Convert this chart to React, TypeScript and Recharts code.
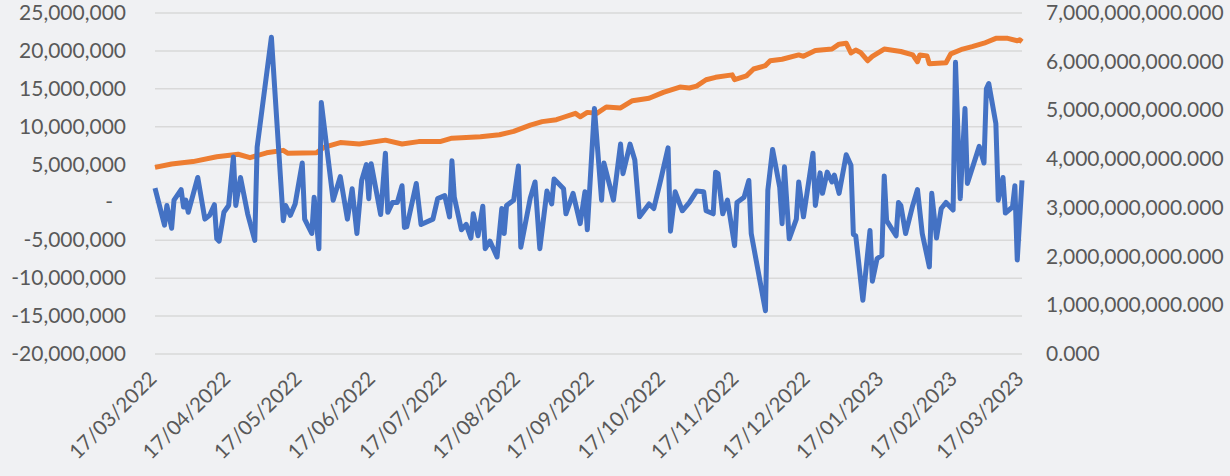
import { LineChart, Line, XAxis, YAxis, CartesianGrid } from 'recharts'

if (typeof document !== 'undefined') document.body.style.margin = '0'

// x positions are days since 17/03/2022
const tickDates = [
    '17/03/2022', '17/04/2022', '17/05/2022', '17/06/2022', '17/07/2022', '17/08/2022', '17/09/2022',
    '17/10/2022', '17/11/2022', '17/12/2022', '17/01/2023', '17/02/2023', '17/03/2023',
]

const leftTicks = [-20, -15, -10, -5, 0, 5, 10, 15, 20, 25] // millions
const rightTicks = [0, 1, 2, 3, 4, 5, 6, 7] // billions

// daily flow (millions)
const flowDays = [
    0, 4, 5, 7, 8, 11, 12, 13, 14, 18, 21, 23, 25, 26, 27, 29, 31, 33, 34, 36,
    39, 42, 43, 49, 54, 55, 57, 59, 62, 63, 66, 67, 69, 70, 75, 78, 81, 83, 85, 87,
    89, 90, 91, 95, 97, 98, 100, 102, 104, 105, 106, 110, 112, 117, 119, 122, 124, 125, 126, 129,
    131, 133, 134, 136, 138, 139, 141, 144, 146, 147, 148, 151, 153, 154, 158, 160, 162, 165, 167, 168,
    172, 173, 176, 179, 181, 182, 185, 188, 189, 193, 196, 197, 200, 202, 204, 208, 210, 213, 216, 217,
    219, 222, 225, 228, 231, 232, 235, 236, 237, 239, 241, 244, 245, 248, 250, 251, 257, 258, 260, 263,
    264, 265, 267, 270, 271, 273, 277, 278, 280, 281, 283, 285, 286, 288, 291, 293, 294, 295, 298, 301,
    302, 304, 306, 307, 308, 312, 313, 314, 316, 319, 321, 323, 326, 327, 329, 331, 333, 336, 337, 339,
    341, 342, 347, 349, 350, 351, 354, 355, 357, 358, 361, 362, 363, 365,
]
const flowValues = [
    1.9, -3.0, -0.4, -3.4, 0.3, 1.7, -0.6, 0.3, -1.3, 3.3, -2.2, -1.7, -0.3, -4.8, -5.1, -1.3, -0.4, 6.0, -0.4, 3.3,
    -1.5, -5.0, 7.3, 21.8, -2.4, -0.4, -1.7, -0.2, 5.2, -2.2, -4.1, 0.7, -6.1, 13.2, 0.3, 3.4, -2.2, 1.8, -4.1, 2.9,
    5.0, 0.5, 5.1, -1.6, 6.5, -1.3, 0.0, 0.0, 2.2, -3.3, -3.2, 2.5, -2.9, -2.2, 0.5, 0.9, -1.9, 5.5, 0.7, -3.6,
    -2.9, -4.7, -1.5, -4.4, -0.5, -6.1, -5.1, -7.2, -0.8, -4.1, -0.4, 0.3, 4.8, -5.9, 0.6, 2.7, -6.1, 1.5, -0.2, 3.1,
    1.8, -1.5, 1.2, -2.8, 1.4, -3.6, 12.4, 0.3, 5.2, 0.3, 7.7, 3.8, 7.7, 5.6, -1.9, -0.2, -0.8, 3.1, 7.2, -3.8,
    1.4, -1.1, 0.0, 1.5, 1.4, -1.1, -1.5, 4.0, 3.8, -1.5, 0.3, -5.7, 0.0, 0.7, 2.9, -4.1, -14.3, 1.6, 7.0, 2.0,
    -2.8, 4.7, -4.8, -2.2, 2.7, -1.9, 6.5, -0.4, 3.9, 1.2, 4.0, 2.7, 3.6, 1.2, 6.3, 4.9, -4.2, -4.4, -12.9, -3.7,
    -10.4, -7.4, -7.0, 3.5, -2.4, -4.4, 0.0, -0.4, -4.1, -0.4, 1.7, -4.1, -8.5, 1.2, -4.7, -0.8, 0.0, -1.0, 18.5, 0.5,
    12.4, 2.5, 7.4, 5.2, 15.0, 15.7, 10.4, 0.3, 3.3, -1.4, -0.6, 2.2, -7.6, 2.9,
]

// total (billions)
const totalDays = [
    0, 7, 16, 26, 35, 40, 47, 54, 56, 68, 71, 78, 86, 97, 104, 111, 120, 125, 137, 145,
    151, 158, 163, 169, 172, 177, 179, 182, 186, 190, 196, 201, 208, 214, 221, 225, 228, 232, 236, 243,
    244, 249, 252, 257, 259, 264, 271, 273, 278, 285, 288, 291, 293, 295, 297, 300, 302, 307, 314, 319,
    321, 322, 325, 326, 333, 335, 340, 344, 349, 354, 359, 363, 364, 365,
]
const totalValues = [
    3.83, 3.90, 3.95, 4.05, 4.10, 4.03, 4.13, 4.18, 4.12, 4.13, 4.24, 4.34, 4.31, 4.39, 4.31, 4.36, 4.36, 4.43, 4.46, 4.50,
    4.57, 4.70, 4.77, 4.81, 4.86, 4.94, 4.87, 4.96, 4.94, 5.07, 5.05, 5.20, 5.25, 5.37, 5.48, 5.46, 5.50, 5.63, 5.68, 5.73,
    5.63, 5.71, 5.85, 5.92, 6.02, 6.05, 6.14, 6.11, 6.23, 6.26, 6.36, 6.38, 6.18, 6.24, 6.19, 6.02, 6.11, 6.26, 6.21, 6.14,
    6.00, 6.14, 6.12, 5.96, 5.98, 6.16, 6.26, 6.31, 6.38, 6.48, 6.48, 6.43, 6.45, 6.41,
]

const DAY = 86400000
const parseDate = (s: string) => {
    const [d, m, y] = s.split('/').map(Number)
    return Date.UTC(y, m - 1, d)
}
const base = parseDate(tickDates[0])
const xTicks = tickDates.map((s) => Math.round((parseDate(s) - base) / DAY))
const fmtDate = (v: number) => {
    const dt = new Date(base + v * DAY)
    const dd = String(dt.getUTCDate()).padStart(2, '0')
    const mm = String(dt.getUTCMonth() + 1).padStart(2, '0')
    return `${dd}/${mm}/${dt.getUTCFullYear()}`
}

const flowData = flowDays.map((d, i) => ({ d, v: flowValues[i] }))
const totalData = totalDays.map((d, i) => ({ d, v: totalValues[i] }))

const FONT = 'Lato, "Open Sans", sans-serif'
const GREY = '#595959'

function LeftTick({ x, y, payload }: any) {
    const v = payload.value
    const label = v === 0 ? '-' : (v * 1e6).toLocaleString('en-US')
    return (
        <text x={v === 0 ? x - 13 : x} y={y} dy={7} textAnchor="end" fill={GREY} fontSize={21} fontFamily={FONT}>
            {label}
        </text>
    )
}

function RightTick({ x, y, payload }: any) {
    const label = (payload.value * 1e9).toLocaleString('en-US', { minimumFractionDigits: 3, maximumFractionDigits: 3 })
    return (
        <text x={x} y={y} dy={7} textAnchor="start" fill={GREY} fontSize={21} fontFamily={FONT}>
            {label}
        </text>
    )
}

function DateTick({ x, y, payload }: any) {
    const tx = x + 3
    const ty = y + 24
    return (
        <text
            x={tx}
            y={ty}
            textAnchor="end"
            fill={GREY}
            fontSize={20.5}
            fontFamily={FONT}
            transform={`rotate(-45, ${tx}, ${ty})`}
        >
            {fmtDate(payload.value)}
        </text>
    )
}

export default function App() {
    return (
        <div style={{ width: 1230, height: 476, background: '#f0f1f3' }}>
            <LineChart width={1230} height={476} margin={{ top: 13, right: 0, bottom: 0, left: 0 }}>
                <CartesianGrid yAxisId="left" vertical={false} stroke="#d9d9d9" strokeWidth={1.5} />
                <XAxis
                    dataKey="d"
                    type="number"
                    domain={[0, 365]}
                    ticks={xTicks}
                    interval={0}
                    height={122}
                    axisLine={false}
                    tickLine={false}
                    tickSize={0}
                    tick={<DateTick />}
                />
                <YAxis
                    yAxisId="left"
                    orientation="left"
                    width={155}
                    domain={[-20, 25]}
                    ticks={leftTicks}
                    interval={0}
                    axisLine={false}
                    tickLine={false}
                    tickSize={0}
                    tickMargin={29}
                    tick={<LeftTick />}
                />
                <YAxis
                    yAxisId="right"
                    orientation="right"
                    width={208}
                    domain={[0, 7]}
                    ticks={rightTicks}
                    interval={0}
                    axisLine={false}
                    tickLine={false}
                    tickSize={0}
                    tickMargin={24}
                    tick={<RightTick />}
                />
                <Line
                    yAxisId="right"
                    data={totalData}
                    dataKey="v"
                    type="linear"
                    stroke="#ED7D31"
                    strokeWidth={5}
                    strokeLinejoin="round"
                    dot={false}
                    isAnimationActive={false}
                />
                <Line
                    yAxisId="left"
                    data={flowData}
                    dataKey="v"
                    type="linear"
                    stroke="#4472C4"
                    strokeWidth={5}
                    strokeLinejoin="round"
                    dot={false}
                    isAnimationActive={false}
                />
            </LineChart>
        </div>
    )
}
